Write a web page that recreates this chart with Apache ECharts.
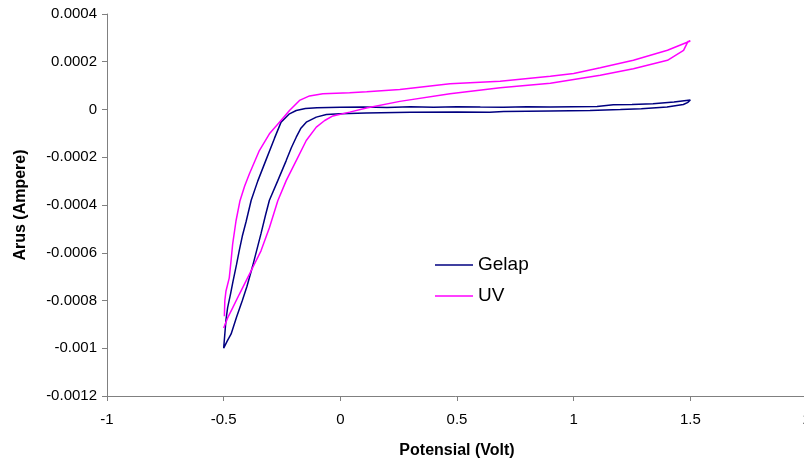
<!DOCTYPE html>
<html>
<head>
<meta charset="utf-8">
<script src="https://cdn.jsdelivr.net/npm/echarts@6/dist/echarts.min.js"></script>
<style>html,body{margin:0;padding:0;background:#fff;}#c{width:804px;height:461px;}</style>
</head>
<body>
<div id="c"></div>
<script>
// Gelap (dark) scan: potential (V) and current (A), in scan order
const gelapX = [-0.5,-0.49,-0.483,-0.47,-0.46,-0.445,-0.433,-0.42,-0.404,-0.382,-0.354,-0.318,-0.282,-0.254,-0.218,-0.189,-0.15,-0.1,0.0,0.1,0.2,0.3,0.4,0.5,0.6,0.7,0.8,0.9,1.0,1.1,1.17,1.25,1.34,1.43,1.5,
  1.49,1.47,1.4,1.29,1.2,1.07,0.9,0.7,0.64,0.5,0.3,0.11,0.0,-0.06,-0.103,-0.146,-0.17,-0.189,-0.21,-0.232,-0.268,-0.304,-0.32,-0.34,-0.377,-0.4,-0.42,-0.445,-0.468,-0.485,-0.5];
const gelapY = [-0.001,-0.00088,-0.00083,-0.00077,-0.00072,-0.00065,-0.00059,-0.00053,-0.00047,-0.00038,-0.0003,-0.00021,-0.00012,-0.000053,-0.000018,-0.000004,0.000004,0.000007,0.000009,0.00001,0.000008,0.000011,0.000009,0.000012,0.00001,0.000009,0.000011,0.00001,0.000012,0.000013,0.00002,0.000021,0.000024,0.000031,0.00004,
  0.00003,0.000021,0.00001,0.000003,0.0,-0.000004,-0.000006,-0.000008,-0.000011,-0.00001,-0.000011,-0.000015,-0.000018,-0.000021,-0.000032,-0.000053,-0.00008,-0.000116,-0.00016,-0.000214,-0.000298,-0.00038,-0.00044,-0.00052,-0.00066,-0.00074,-0.0008,-0.00087,-0.00094,-0.00097,-0.001];
// UV scan
const uvX = [-0.497,-0.495,-0.49,-0.476,-0.468,-0.4615,-0.447,-0.43,-0.41,-0.39,-0.347,-0.304,-0.261,-0.218,-0.175,-0.132,-0.075,0.04,0.113,0.255,0.47,0.685,0.9,1.0,1.114,1.256,1.402,1.5,
  1.49,1.471,1.402,1.256,1.114,0.9,0.685,0.47,0.255,0.112,0.04,-0.032,-0.067,-0.103,-0.146,-0.189,-0.232,-0.268,-0.304,-0.34,-0.376,-0.404,-0.433,-0.4615,-0.483,-0.5];
const uvY = [-0.000866,-0.0008,-0.00076,-0.000705,-0.00063,-0.000564,-0.000466,-0.000382,-0.00032,-0.00027,-0.000172,-0.000102,-0.000053,-0.000004,0.000038,0.000057,0.000066,0.00007,0.000074,0.000084,0.000108,0.000118,0.000139,0.000151,0.000175,0.000206,0.000248,0.000287,
  0.000285,0.000248,0.000206,0.000171,0.000143,0.00011,0.000091,0.000066,0.000034,0.000006,-0.000011,-0.000027,-0.000046,-0.000074,-0.00013,-0.000214,-0.000298,-0.000382,-0.000495,-0.000592,-0.000663,-0.000718,-0.000774,-0.000831,-0.000873,-0.000915];
const seriesNames = ['Gelap', 'UV'];
const xTitle = 'Potensial (Volt)';
const yTitle = 'Arus (Ampere)';

const pairs = (xs, ys) => xs.map((x, i) => [x, ys[i]]);
const chart = echarts.init(document.getElementById('c'), null, {renderer: 'canvas'});
const axisCol = '#808080';
const font = 'Arial, "Liberation Sans", sans-serif';
chart.setOption({
  animation: false,
  backgroundColor: '#ffffff',
  grid: {left: 107, top: 14, width: 700, height: 382, containLabel: false, outerBoundsMode: 'none'},
  legend: {
    orient: 'vertical', left: 435, top: 254, padding: 0,
    icon: 'rect', itemWidth: 38, itemHeight: 1.5, itemGap: 9,
    textStyle: {fontFamily: font, fontSize: 19, color: '#000', lineHeight: 22},
    data: seriesNames
  },
  xAxis: {
    type: 'value', min: -1, max: 2, interval: 0.5,
    name: xTitle, nameLocation: 'middle', nameGap: 47,
    nameTextStyle: {fontFamily: font, fontSize: 16, fontWeight: 'bold', color: '#000'},
    axisLine: {show: true, onZero: false, lineStyle: {color: axisCol, width: 1}},
    axisTick: {show: true, length: 5, lineStyle: {color: axisCol}},
    axisLabel: {fontFamily: font, fontSize: 15, color: '#000', margin: 16},
    splitLine: {show: false}
  },
  yAxis: {
    type: 'value', min: -0.0012, max: 0.0004, interval: 0.0002,
    name: yTitle, nameLocation: 'middle', nameGap: 78, nameRotate: 90,
    nameTextStyle: {fontFamily: font, fontSize: 16, fontWeight: 'bold', color: '#000'},
    axisLine: {show: true, onZero: false, lineStyle: {color: axisCol, width: 1}},
    axisTick: {show: true, length: 5, lineStyle: {color: axisCol}},
    axisLabel: {fontFamily: font, fontSize: 15, color: '#000', margin: 10,
      formatter: v => String(+v.toFixed(4))},
    splitLine: {show: false}
  },
  series: [
    {name: seriesNames[0], type: 'line', data: pairs(gelapX, gelapY), symbol: 'none',
     lineStyle: {color: '#000080', width: 1.5}, itemStyle: {color: '#000080'}},
    {name: seriesNames[1], type: 'line', data: pairs(uvX, uvY), symbol: 'none',
     lineStyle: {color: '#ff00ff', width: 1.5}, itemStyle: {color: '#ff00ff'}}
  ]
});
</script>
</body>
</html>
